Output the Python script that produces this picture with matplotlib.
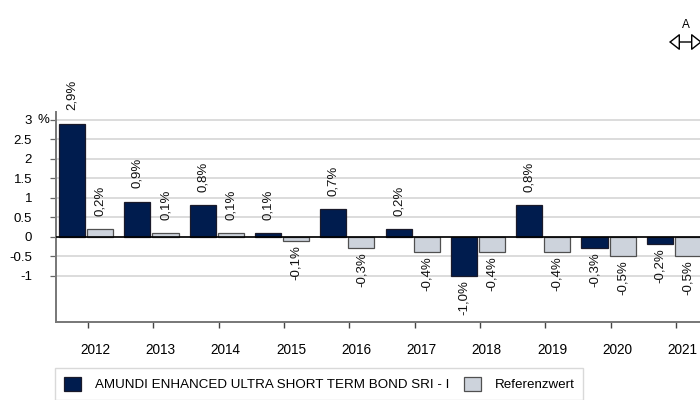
import matplotlib
matplotlib.use("Agg")
import matplotlib.pyplot as plt
import numpy as np
from matplotlib.patches import FancyArrowPatch, Patch

plt.rcParams['font.family'] = ['Liberation Sans', 'DejaVu Sans']

years = ["2012", "2013", "2014", "2015", "2016", "2017", "2018", "2019", "2020", "2021"]
fund = [2.9, 0.9, 0.8, 0.1, 0.7, 0.2, -1.0, 0.8, -0.3, -0.2]
bench = [0.2, 0.1, 0.1, -0.1, -0.3, -0.4, -0.4, -0.4, -0.5, -0.5]
fund_name = "AMUNDI ENHANCED ULTRA SHORT TERM BOND SRI - I"
bench_name = "Referenzwert"
yticks = [-1, -0.5, 0, 0.5, 1, 1.5, 2, 2.5, 3]
ytick_labels = ["-1", "-0.5", "0", "0.5", "1", "1.5", "2", "2.5", "3"]

c_fund = "#001c4e"
c_bench = "#cdd3dc"

W, H = 700, 400
fig = plt.figure(figsize=(7, 4), dpi=100)
ax = fig.add_axes([56 / W, 1 - 322.3 / H, 653 / W, 210.3 / H])

x = np.arange(len(years))
bw = 0.4
b1 = ax.bar(x - 0.215, fund, width=bw, color=c_fund, edgecolor="#1a1a2a", linewidth=0.9, zorder=3)
b2 = ax.bar(x + 0.215, bench, width=bw, color=c_bench, edgecolor="#505050", linewidth=0.9, zorder=3)

ax.set_xlim(-0.462, -0.462 + 10)
ax.set_ylim(-2.2, 3.2)

for gy in yticks:
    ax.axhline(gy, color="#dcdcdc", linewidth=1.4, zorder=1)
ax.axhline(0, color="black", linewidth=1.2, zorder=4)

def fmt(v):
    return f"{v:.1f}".replace(".", ",") + "%"

for bars, vals in ((b1, fund), (b2, bench)):
    for rect, v in zip(bars, vals):
        cx = rect.get_x() + rect.get_width() / 2
        if v >= 0:
            ax.annotate(fmt(v), (cx, v), xytext=(0, 9.5), textcoords="offset points",
                        rotation=90, ha="center", va="bottom", fontsize=9.5, color="#111111")
        else:
            ax.annotate(fmt(v), (cx, v), xytext=(0, -3), textcoords="offset points",
                        rotation=90, ha="center", va="top", fontsize=9.5, color="#111111")

ax.set_yticks(yticks)
ax.set_yticklabels(ytick_labels, fontsize=9.5)
# tick marks (major) and labels (minor, shifted right a little)
ax.set_xticks(x + 0.03)
ax.set_xticklabels([])
ax.set_xticks(x + 0.03 + 7 / 65.3, minor=True)
ax.set_xticklabels(years, minor=True, fontsize=9.8)

ax.tick_params(axis="y", length=4.3, width=0.9, color="#666666", pad=13)
ax.tick_params(axis="x", which="major", length=4.3, width=1.0, color="#444444")
ax.tick_params(axis="x", which="minor", length=0, pad=15)

for s in ("top", "right"):
    ax.spines[s].set_visible(False)
for s in ("left", "bottom"):
    ax.spines[s].set_color("#777777")
    ax.spines[s].set_linewidth(1.4)

fig.text(37 / W, 1 - 120 / H, "%", fontsize=9.5, ha="left", va="center")

handles = [Patch(facecolor=c_fund, edgecolor="#1a1a2a", linewidth=0.9),
           Patch(facecolor=c_bench, edgecolor="#505050", linewidth=0.9)]
leg = fig.legend(handles, [fund_name, bench_name], loc="upper left",
                 bbox_to_anchor=(55 / W, 1 - 368 / H), ncol=2, fontsize=9.6,
                 handlelength=1.28, handleheight=1.28, handletextpad=1.05,
                 columnspacing=1.1, borderpad=0.65, borderaxespad=0, frameon=True,
                 fancybox=False)
leg.get_frame().set_edgecolor("#d0d0d0")
leg.get_frame().set_linewidth(1.0)

arrow = FancyArrowPatch((669 / W, 1 - 42 / H), (702 / W, 1 - 42 / H),
                        transform=fig.transFigure,
                        arrowstyle="<|-|>,head_length=0.33,head_width=0.26",
                        mutation_scale=20, facecolor="white", edgecolor="black",
                        linewidth=1.0, shrinkA=0, shrinkB=0)
fig.patches.append(arrow)
fig.text(686 / W, 1 - 25 / H, "A", fontsize=8.5, ha="center", va="center")

fig.savefig("out.png", dpi=100)
